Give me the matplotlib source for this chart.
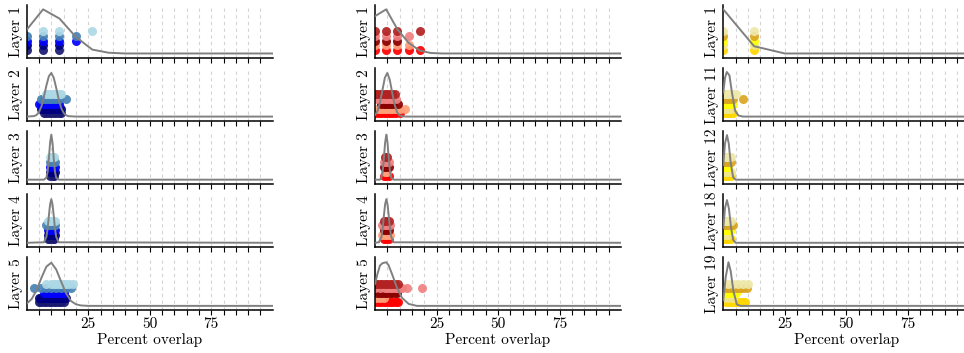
import numpy as np
import matplotlib
matplotlib.use("Agg")
import matplotlib.pyplot as plt

plt.rcParams['font.family'] = ['cmr10', 'DejaVu Serif']
plt.rcParams['mathtext.fontset'] = 'cm'
plt.rcParams['axes.unicode_minus'] = False
plt.rcParams['font.size'] = 11

# layer names per panel column
layers_a = ["Layer 1", "Layer 2", "Layer 3", "Layer 4", "Layer 5"]
layers_b = ["Layer 1", "Layer 2", "Layer 3", "Layer 4", "Layer 5"]
layers_c = ["Layer 1", "Layer 11", "Layer 12", "Layer 18", "Layer 19"]

# run colours, top row of dots first
colors_a = ["lightblue", "steelblue", "blue", "navy", "midnightblue"]
colors_b = ["firebrick", "lightcoral", "darkred", "lightsalmon", "red"]
colors_c = ["palegoldenrod", "goldenrod", "yellow", "khaki", "gold"]

# percent overlap of each run, per layer
points_a = [
    [[6.67, 13.33, 26.67], [0, 6.67, 13.33, 20], [0, 6.67, 13.33, 20], [0, 6.67, 13.33], [0, 6.67, 13.33]],
    [[8, 9, 10, 11, 12, 13, 14], [6, 7, 8, 9, 10, 11, 12, 13, 16], [5, 6, 7, 8, 9, 10, 11, 12, 13],
     [6, 7, 8, 9, 10, 11, 12, 13, 14], [7, 8, 9, 10, 11, 12, 13, 14]],
    [[9.5, 10.5, 11], [9.5, 10.5, 11.5], [9.5, 10, 10.5, 11.5], [9.5, 10.5, 11.5], [9.5, 10.5, 11]],
    [[8.5, 9.5, 10.5, 11.5], [8, 9, 10, 11, 11.5], [8.5, 9.5, 10.5, 11.5], [8.5, 9.5, 10.5, 11.5], [8.5, 9.5, 10.5, 11]],
    [[8, 10, 11, 12, 13, 14, 15, 16, 17, 19], [3, 6, 8, 10, 12, 14, 16, 18], [7, 8, 9, 10, 11, 12, 13, 14, 15],
     [5, 6, 7, 8, 9, 10, 11, 12, 13, 14, 15, 16], [5, 6, 7, 8, 9, 10, 11, 12, 13, 14, 15]],
]
points_b = [
    [[0, 4.55, 9.09, 18.18], [0, 4.55, 9.09, 13.64], [0, 4.55, 9.09], [0, 4.55, 9.09, 13.64], [0, 4.55, 9.09, 13.64, 18.18]],
    [[0, 1, 2, 3, 4, 5, 6, 7, 8], [0.5, 2, 3, 4, 5, 6, 7, 8.5], [2.5, 3.5, 4.5, 5.5, 6.5, 7.5, 9.5],
     [1, 2, 3, 4, 5, 6, 7, 8, 9, 10, 12.3], [0.5, 1.5, 2.5, 3.5, 4.5, 5.5, 6.5, 7.5, 8.5, 10]],
    [[4, 5], [3.5, 4.5, 5.5], [3.5, 4.5, 5.5], [4, 5], [3.5, 4.5, 5.5]],
    [[3.5, 4.5, 5.5], [3, 4, 5, 6], [3.5, 4.5, 5.5], [3, 4, 5, 6], [3.5, 4.5, 5.5]],
    [[0, 1, 2, 3, 4, 5, 6, 7, 8, 9.5], [0, 2, 4, 5, 6, 7, 8, 9, 10, 11, 13, 19], [1, 2, 3, 4, 5, 6, 7, 8, 9],
     [0.5, 2, 3.5], [0.5, 1.5, 2.5, 3.5, 4.5, 5.5, 6.5, 7.5, 8.5, 9.5]],
]
points_c = [
    [[0, 12.5], [0, 12.5], [0, 12.5], [0, 12.5], [0, 12.5]],
    [[0, 1, 2, 3, 4, 5], [0, 1, 2, 3, 4, 8], [0, 1, 2, 3, 4], [0, 1, 2, 3], [0, 1, 2, 3, 4]],
    [[0, 1, 2, 3], [0, 1, 2, 3], [0, 1, 2], [0, 1, 2, 3], [0, 1, 2, 3]],
    [[0, 1, 2, 3], [0, 1, 2, 3, 4], [0, 1, 2, 3], [0, 1, 2], [0, 1, 2, 3]],
    [[0, 2, 4, 6, 8, 10], [0, 1, 2, 3, 4, 5, 6, 7, 8, 9.5], [0, 1, 2, 3, 4, 5], [0, 2, 4],
     [1, 2, 3, 4, 5, 6, 7, 8, 9]],
]

# density curves (scaled so the panel top is 1)
curve_a_x = [
    [0, 6.67, 13.33, 20, 26.67, 33.33, 40, 100],
    [0, 3, 4, 5, 6, 7, 8, 9, 10, 11, 12, 13, 14, 15, 16, 17, 20, 100],
    [0, 7, 8, 8.5, 9, 9.5, 10, 10.5, 11, 11.5, 12, 13, 100],
    [0, 7, 8, 8.5, 9, 9.5, 10, 10.5, 11, 11.5, 12, 13, 100],
    [0, 2, 4, 6, 8, 10, 12, 14, 16, 18, 20, 22, 25, 100],
]
curve_a_y = [
    [0.49, 0.91, 0.72, 0.34, 0.08, 0.015, 0, 0],
    [0, 0.01, 0.033, 0.093, 0.21, 0.41, 0.64, 0.83, 0.9, 0.8, 0.59, 0.36, 0.18, 0.077, 0.027, 0.008, 0, 0],
    [0, 0, 0.04, 0.16, 0.43, 0.76, 0.93, 0.76, 0.43, 0.16, 0.04, 0, 0],
    [0, 0.01, 0.12, 0.29, 0.55, 0.79, 0.9, 0.79, 0.55, 0.29, 0.12, 0.01, 0],
    [0.047, 0.14, 0.32, 0.58, 0.81, 0.89, 0.75, 0.5, 0.26, 0.1, 0.033, 0.009, 0, 0],
]
curve_b_x = [
    [0, 4.55, 9.09, 13.64, 18.18, 22.73, 27.27, 100],
    [0, 1, 2, 3, 4, 5, 6, 7, 8, 9, 10, 11, 13, 100],
    [0, 2, 2.6, 3.1, 3.6, 4.1, 4.6, 5.1, 5.6, 6.1, 6.6, 7.6, 100],
    [0, 1.6, 2.6, 3.1, 3.6, 4.1, 4.6, 5.1, 5.6, 6.1, 6.6, 7.6, 100],
    [0, 1, 2, 3, 4.55, 5.5, 6.9, 8.9, 10.9, 13.7, 17, 100],
]
curve_b_y = [
    [0.77, 0.91, 0.5, 0.22, 0.06, 0.01, 0, 0],
    [0.03, 0.11, 0.28, 0.54, 0.8, 0.9, 0.76, 0.49, 0.24, 0.087, 0.025, 0.005, 0, 0],
    [0, 0, 0.04, 0.16, 0.43, 0.76, 0.93, 0.76, 0.43, 0.16, 0.04, 0, 0],
    [0, 0.01, 0.12, 0.29, 0.55, 0.79, 0.9, 0.79, 0.55, 0.29, 0.12, 0.01, 0],
    [0.45, 0.66, 0.83, 0.88, 0.9, 0.84, 0.66, 0.38, 0.17, 0.04, 0, 0],
]
curve_c_x = [
    [0, 12.5, 25, 100],
    [0, 0.7, 1.4, 2.5, 3.5, 4.8, 6.2, 8, 100],
    [0, 0.7, 1.5, 2.2, 3, 4, 5, 100],
    [0, 0.7, 1.5, 2.3, 3.1, 4, 5, 100],
    [0, 1, 2.1, 3, 4.1, 5.5, 7, 100],
]
curve_c_y = [
    [0.91, 0.15, 0, 0],
    [0.5, 0.8, 0.92, 0.85, 0.5, 0.12, 0.02, 0, 0],
    [0.3, 0.75, 0.92, 0.75, 0.35, 0.05, 0, 0],
    [0.3, 0.72, 0.88, 0.7, 0.33, 0.06, 0, 0],
    [0.12, 0.6, 0.9, 0.72, 0.31, 0.03, 0, 0],
]

panels = [
    (layers_a, colors_a, points_a, curve_a_x, curve_a_y),
    (layers_b, colors_b, points_b, curve_b_x, curve_b_y),
    (layers_c, colors_c, points_c, curve_c_x, curve_c_y),
]

W, H = 964, 353
col_left = [26.7, 375.0, 723.3]
ax_w = 246.0
row_top0, row_pitch, ax_h = 5.0, 63.1, 52.5
dot_levels = [0.50, 0.41, 0.32, 0.23, 0.15]  # axes fraction of each run's row
y_lo, y_hi = -0.083, 1.0

fig = plt.figure(figsize=(W / 100, H / 100), dpi=100)

for c, (layers, colors, points, cx, cy) in enumerate(panels):
    for r in range(5):
        top = row_top0 + r * row_pitch
        ax = fig.add_axes([col_left[c] / W, 1 - (top + ax_h) / H, ax_w / W, ax_h / H])
        ax.set_xlim(0, 100)
        ax.set_ylim(y_lo, y_hi)

        # dashed guides every 5 percent
        for gx in range(5, 100, 5):
            ax.axvline(gx, color='#d4d4d4', lw=0.8, ls=(0, (3, 3)), zorder=0)

        for k in range(len(colors) - 1, -1, -1):
            yv = y_lo + dot_levels[k] * (y_hi - y_lo)
            xs = np.asarray(points[r][k], dtype=float)
            ax.scatter(xs, np.full(len(xs), yv), s=42, color=colors[k],
                       linewidths=0, alpha=0.92, zorder=2)

        ax.plot(cx[r], cy[r], color='gray', lw=1.4, zorder=3)

        ax.set_yticks([])
        ax.set_ylabel(layers[r], labelpad=3)
        ax.spines['top'].set_visible(False)
        ax.spines['right'].set_visible(False)
        for side in ('left', 'bottom'):
            ax.spines[side].set_linewidth(1.1)
            ax.spines[side].set_color('black')
        ax.set_xticks(range(5, 100, 5))
        ax.tick_params(axis='x', direction='out', length=3.5, width=0.8, pad=2)
        if r == 4:
            ax.set_xticklabels([str(t) if t % 25 == 0 else '' for t in range(5, 100, 5)])
            ax.set_xlabel("Percent overlap", labelpad=1)
        else:
            ax.set_xticklabels([])

fig.savefig("out.png", dpi=100)
